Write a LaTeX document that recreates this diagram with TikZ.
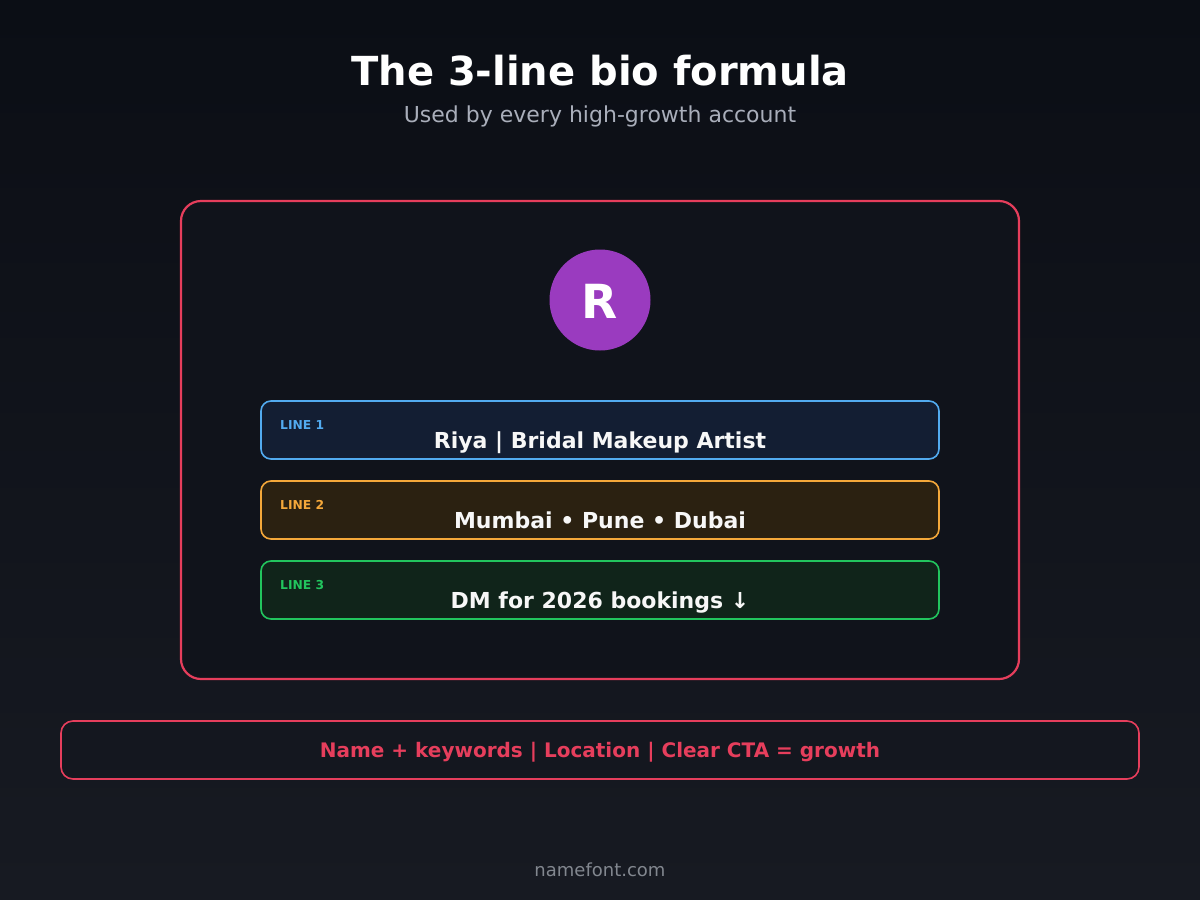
\documentclass[tikz,border=0pt]{standalone}
\usepackage{fontspec}
\setmainfont{DejaVu Sans}
\newfontfamily\djb{DejaVu Sans Bold}
\definecolor{bgtop}{HTML}{0B0E15}
\definecolor{bgbot}{HTML}{171A22}
\definecolor{accent}{HTML}{E63E5C}
\definecolor{cardfill}{HTML}{10131B}
\definecolor{avatar}{HTML}{9A3BBF}
\definecolor{oneb}{HTML}{52ABF0}
\definecolor{onef}{HTML}{131E33}
\definecolor{twob}{HTML}{F5A83A}
\definecolor{twof}{HTML}{2B2111}
\definecolor{threeb}{HTML}{22C55E}
\definecolor{threef}{HTML}{10241A}
\definecolor{bottomfill}{HTML}{14171F}
\definecolor{subgray}{HTML}{A9AEBA}
\definecolor{footgray}{HTML}{82878F}
\definecolor{txtwhite}{HTML}{F7F7F7}
\tikzset{
  linebox/.style={draw, line width=1.6pt, rounded corners=10pt, minimum width=678pt, minimum height=58pt, inner sep=0pt},
  tag/.style={anchor=base west, inner sep=0pt, font=\djb\fontsize{12.3}{14}\selectfont},
  maintxt/.style={anchor=base, inner sep=0pt, text=txtwhite, font=\djb\fontsize{22}{26}\selectfont},
}
\begin{document}
\begin{tikzpicture}[x=1pt,y=-1pt]
\useasboundingbox (0,0) rectangle (1200,900);
\shade[top color=bgtop, bottom color=bgbot] (0,0) rectangle (1200,900);
\node[anchor=base, inner sep=0pt, text=white, font=\djb\fontsize{40}{46}\selectfont] (title) at (600,85) {The 3-line bio formula};
\node[anchor=base, inner sep=0pt, text=subgray, font=\fontsize{22}{26}\selectfont] (subtitle) at (600,122) {Used by every high-growth account};
\node[draw=accent, fill=cardfill, line width=2.2pt, rounded corners=20pt, minimum width=838pt, minimum height=478pt, inner sep=0pt] (card) at (600,440) {};
\node[circle, fill=avatar, minimum size=101pt, inner sep=0pt] (avatar) at (600,300) {};
\node[anchor=base, inner sep=0pt, text=white, font=\djb\fontsize{47}{50}\selectfont] (initial) at (600,318) {R};
\node[linebox, draw=oneb, fill=onef] (l1) at (600,430) {};
\node[linebox, draw=twob, fill=twof] (l2) at (600,510) {};
\node[linebox, draw=threeb, fill=threef] (l3) at (600,590) {};
\node[tag, text=oneb] (t1) at (280,429) {LINE 1};
\node[tag, text=twob] (t2) at (280,509) {LINE 2};
\node[tag, text=threeb] (t3) at (280,589) {LINE 3};
\node[maintxt] (m1) at (600,448) {Riya | Bridal Makeup Artist};
\node[maintxt] (m2) at (600,528) {Mumbai • Pune • Dubai};
\node[maintxt] (m3) at (600,608) {DM for 2026 bookings ↓};
\node[draw=accent, fill=bottomfill, line width=1.6pt, rounded corners=12pt, minimum width=1078pt, minimum height=58pt, inner sep=0pt] (summary) at (600,750) {};
\node[anchor=base, inner sep=0pt, text=accent, font=\djb\fontsize{20}{24}\selectfont] (sumtxt) at (600,757) {Name + keywords | Location | Clear CTA = growth};
\node[anchor=base, inner sep=0pt, text=footgray, font=\fontsize{18}{22}\selectfont] (footer) at (600,876) {namefont.com};
\end{tikzpicture}
\end{document}
